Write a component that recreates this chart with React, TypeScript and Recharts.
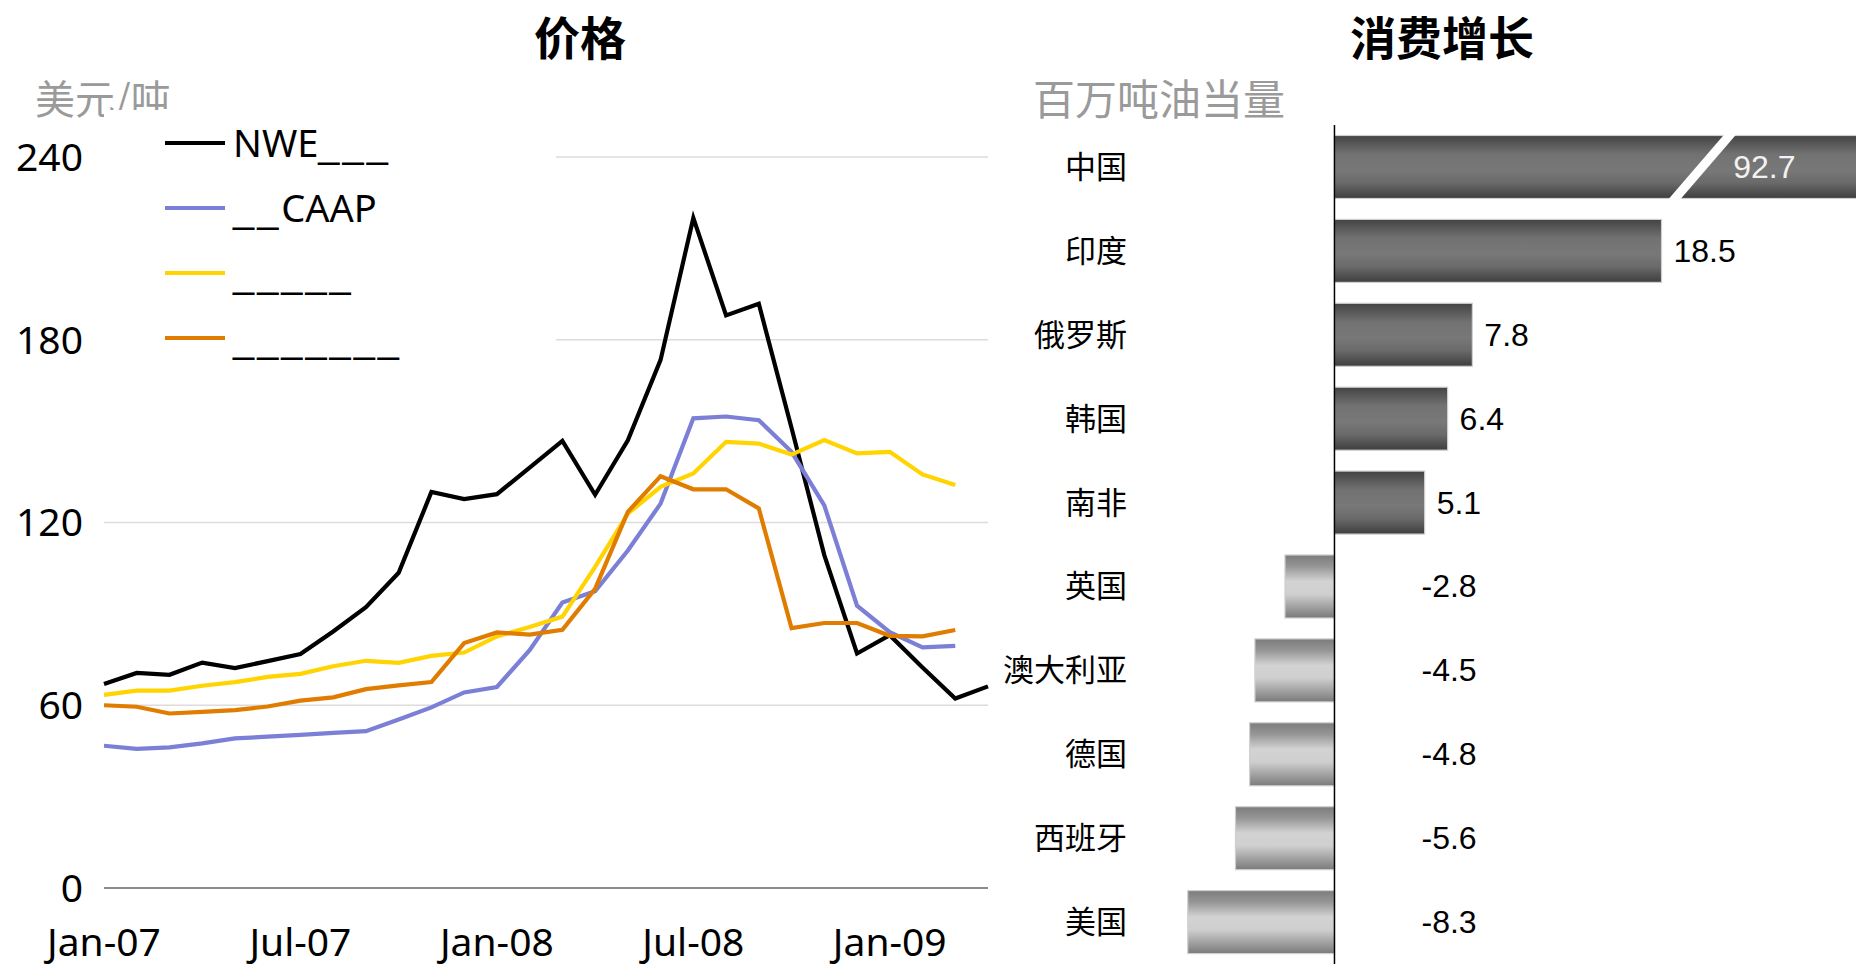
import { LineChart, Line, XAxis, YAxis, CartesianGrid, Legend, BarChart, Bar, LabelList, ReferenceLine } from 'recharts';

// 价格 (美元/吨), monthly Jan-07 .. Apr-09
const months = [
  'Jan-07', 'Feb-07', 'Mar-07', 'Apr-07', 'May-07', 'Jun-07', 'Jul-07', 'Aug-07', 'Sep-07', 'Oct-07', 'Nov-07', 'Dec-07',
  'Jan-08', 'Feb-08', 'Mar-08', 'Apr-08', 'May-08', 'Jun-08', 'Jul-08', 'Aug-08', 'Sep-08', 'Oct-08', 'Nov-08', 'Dec-08',
  'Jan-09', 'Feb-09', 'Mar-09', 'Apr-09',
];
const nwe = [67, 70.6, 70, 74, 72.2, 74.5, 76.8, 84.2, 92.2, 103.5, 130, 127.7, 129.3, 138, 146.8, 129.1, 147, 173.4, 220, 188, 191.8, 151, 109.3, 77, 83, 72.4, 62.2, 66.2];
const caap = [46.7, 45.7, 46.2, 47.5, 49.1, 49.7, 50.3, 50.9, 51.5, 55.3, 59.3, 64.2, 66, 78.1, 93.7, 97.4, 110.8, 126.2, 154.2, 154.8, 153.6, 143.2, 125.6, 92.7, 84, 79, 79.5, null];
const third = [63.4, 64.8, 64.8, 66.4, 67.6, 69.3, 70.3, 72.8, 74.6, 73.9, 76.2, 77.3, 82.6, 85.7, 89.1, 105.4, 122.9, 131.7, 136.1, 146.5, 145.9, 142.3, 147.1, 142.7, 143.2, 135.8, 132.3, null];
const fourth = [60, 59.5, 57.3, 57.8, 58.4, 59.6, 61.5, 62.6, 65.3, 66.5, 67.6, 80.4, 83.9, 83.2, 84.8, 98.2, 123.5, 135.2, 130.9, 130.9, 124.6, 85.3, 87, 87, 82.8, 82.6, 84.7, null];
const priceTicks = [0, 60, 120, 180, 240];

// 消费增长 (百万吨油当量)
const countries = ['中国', '印度', '俄罗斯', '韩国', '南非', '英国', '澳大利亚', '德国', '西班牙', '美国'];
const growth = [92.7, 18.5, 7.8, 6.4, 5.1, -2.8, -4.5, -4.8, -5.6, -8.3];

const priceData = months.map((m, i) => ({ month: m, nwe: nwe[i], caap: caap[i], third: third[i], fourth: fourth[i] }));
const growthData = countries.map((c, i) => ({ name: c, value: growth[i] }));

const BREAK_AT = 20.8; // where the long bar is cut

const latin = '"Noto Sans", sans-serif';
const cjk = '"Noto Sans CJK SC", sans-serif';
const arial = '"Liberation Sans", Arial, sans-serif';

// underscores in the legend are wider in the original font
function legendText(s: string) {
  return s.split(/(_+)/).filter(Boolean).map((part, i) =>
    part[0] === '_'
      ? <span key={i} style={{ fontFamily: arial, letterSpacing: 3 }}>{part}</span>
      : <span key={i}>{part}</span>
  );
}

function PriceLegend(props: any) {
  const items = props.payload || [];
  return (
    <div style={{ background: '#fff', width: 452, height: 260 }}>
      {items.map((it: any) => (
        <div key={it.value} style={{ display: 'flex', alignItems: 'center', height: 65 }}>
          <span style={{ marginLeft: 61, width: 60, height: 4, background: it.color }} />
          <span style={{ marginLeft: 8, fontFamily: latin, fontSize: 38, color: '#000', lineHeight: '44px', whiteSpace: 'pre' }}>{legendText(it.value)}</span>
        </div>
      ))}
    </div>
  );
}

function GrowthBar(props: any) {
  const { x, y, width, height, payload } = props;
  const v = payload.value;
  const left = Math.min(x, x + width);
  const w = Math.abs(width);
  const fill = v >= 0 ? 'url(#gradDark)' : 'url(#gradLight)';
  const rect = <rect x={left} y={y} width={w} height={height} fill={fill} stroke="#cfcfcf" strokeWidth={1.2} />;
  if (v <= BREAK_AT) return rect;
  const cx = left + (BREAK_AT * w) / v;
  const pts = [
    [cx - 28 - 6, y + height + 1],
    [cx - 28 + 6, y + height + 1],
    [cx + 28 + 6, y - 1],
    [cx + 28 - 6, y - 1],
  ].map((p) => p.join(',')).join(' ');
  return (
    <g>
      {rect}
      <polygon points={pts} fill="#fff" />
    </g>
  );
}

function GrowthLabel(props: any) {
  const { x, y, width, height, value } = props;
  const left = Math.min(x, x + width);
  const w = Math.abs(width);
  const right = left + w;
  const cy = y + height / 2;
  const common = { y: cy, dominantBaseline: 'central' as const, fontFamily: arial, fontSize: 32 };
  if (value > BREAK_AT) {
    const cx = left + (BREAK_AT * w) / value;
    return <text x={cx + 31} {...common} fill="#f2f2f2">{value}</text>;
  }
  if (value >= 0) return <text x={right + 12} {...common} fill="#000">{value}</text>;
  return <text x={right + 87} {...common} fill="#000">{value}</text>;
}

export default function App() {
  return (
    <div style={{ position: 'absolute', left: 0, top: 0, width: 1856, height: 966, background: '#fff', overflow: 'hidden' }}>
      {/* left: prices */}
      <div style={{ position: 'absolute', left: 480, top: 11, width: 200, textAlign: 'center', fontFamily: cjk, fontWeight: 700, fontSize: 46, lineHeight: '48px' }}>价格</div>
      <div style={{ position: 'absolute', left: 35, top: 76, fontFamily: cjk, fontSize: 40, lineHeight: '42px', color: '#9a9a9a' }}>美元/吨</div>
      <div style={{ position: 'absolute', left: 0, top: 0 }}>
        <LineChart width={1000} height={966} data={priceData} margin={{ top: 157, right: 12, bottom: 0, left: 0 }}>
          <CartesianGrid vertical={false} stroke="#dcdcdc" strokeWidth={1.5} />
          <XAxis
            dataKey="month"
            interval={5}
            tickLine={false}
            tickSize={0}
            tickMargin={40}
            height={78}
            stroke="#8c8c8c"
            strokeWidth={2}
            tick={{ fill: '#000', fontFamily: latin, fontSize: 39 }}
          />
          <YAxis
            domain={[0, 240]}
            ticks={priceTicks}
            width={104}
            axisLine={false}
            tickLine={false}
            tickSize={0}
            tickMargin={21}
            tick={{ fill: '#000', fontFamily: latin, fontSize: 39 }}
          />
          <Legend
            layout="vertical"
            align="center"
            verticalAlign="middle"
            content={PriceLegend}
            wrapperStyle={{ left: 104, top: 110, width: 452, height: 260 }}
          />
          <Line dataKey="nwe" name="NWE___" stroke="#000000" strokeWidth={4.2} dot={false} activeDot={false} isAnimationActive={false} />
          <Line dataKey="caap" name="__CAAP" stroke="#7b7fd6" strokeWidth={4.2} dot={false} activeDot={false} isAnimationActive={false} />
          <Line dataKey="third" name="_____" stroke="#ffd400" strokeWidth={4.2} dot={false} activeDot={false} isAnimationActive={false} />
          <Line dataKey="fourth" name="_______" stroke="#e07c00" strokeWidth={4.2} dot={false} activeDot={false} isAnimationActive={false} />
        </LineChart>
      </div>

      {/* right: consumption growth */}
      <div style={{ position: 'absolute', left: 1342, top: 11, width: 200, textAlign: 'center', fontFamily: cjk, fontWeight: 700, fontSize: 46, lineHeight: '48px' }}>消费增长</div>
      <div style={{ position: 'absolute', left: 1033, top: 75, fontFamily: cjk, fontSize: 42, lineHeight: '44px', color: '#9a9a9a' }}>百万吨油当量</div>
      <div style={{ position: 'absolute', left: 990, top: 125 }}>
        <BarChart width={866} height={841} data={growthData} layout="vertical" barCategoryGap="12.5%" margin={{ top: 0, right: 0, bottom: 2, left: 0 }}>
          <defs>
            <linearGradient id="gradDark" x1="0" y1="0" x2="0" y2="1">
              <stop offset="0" stopColor="#434343" />
              <stop offset="0.3" stopColor="#727272" />
              <stop offset="0.55" stopColor="#787878" />
              <stop offset="0.75" stopColor="#6a6a6a" />
              <stop offset="1" stopColor="#3e3e3e" />
            </linearGradient>
            <linearGradient id="gradLight" x1="0" y1="0" x2="0" y2="1">
              <stop offset="0" stopColor="#7c7c7c" />
              <stop offset="0.18" stopColor="#959595" />
              <stop offset="0.42" stopColor="#d3d3d3" />
              <stop offset="0.62" stopColor="#cfcfcf" />
              <stop offset="1" stopColor="#7a7a7a" />
            </linearGradient>
          </defs>
          <XAxis type="number" domain={[-11, 29.5]} allowDataOverflow hide />
          <YAxis
            type="category"
            dataKey="name"
            width={150}
            axisLine={false}
            tickLine={false}
            tickSize={0}
            tickMargin={13}
            tick={{ fill: '#000', fontFamily: cjk, fontSize: 31 }}
          />
          <Bar dataKey="value" shape={GrowthBar} isAnimationActive={false}>
            <LabelList dataKey="value" content={GrowthLabel} />
          </Bar>
          <ReferenceLine x={0} stroke="#000" strokeWidth={1.5} ifOverflow="extendDomain" />
        </BarChart>
      </div>
    </div>
  );
}
